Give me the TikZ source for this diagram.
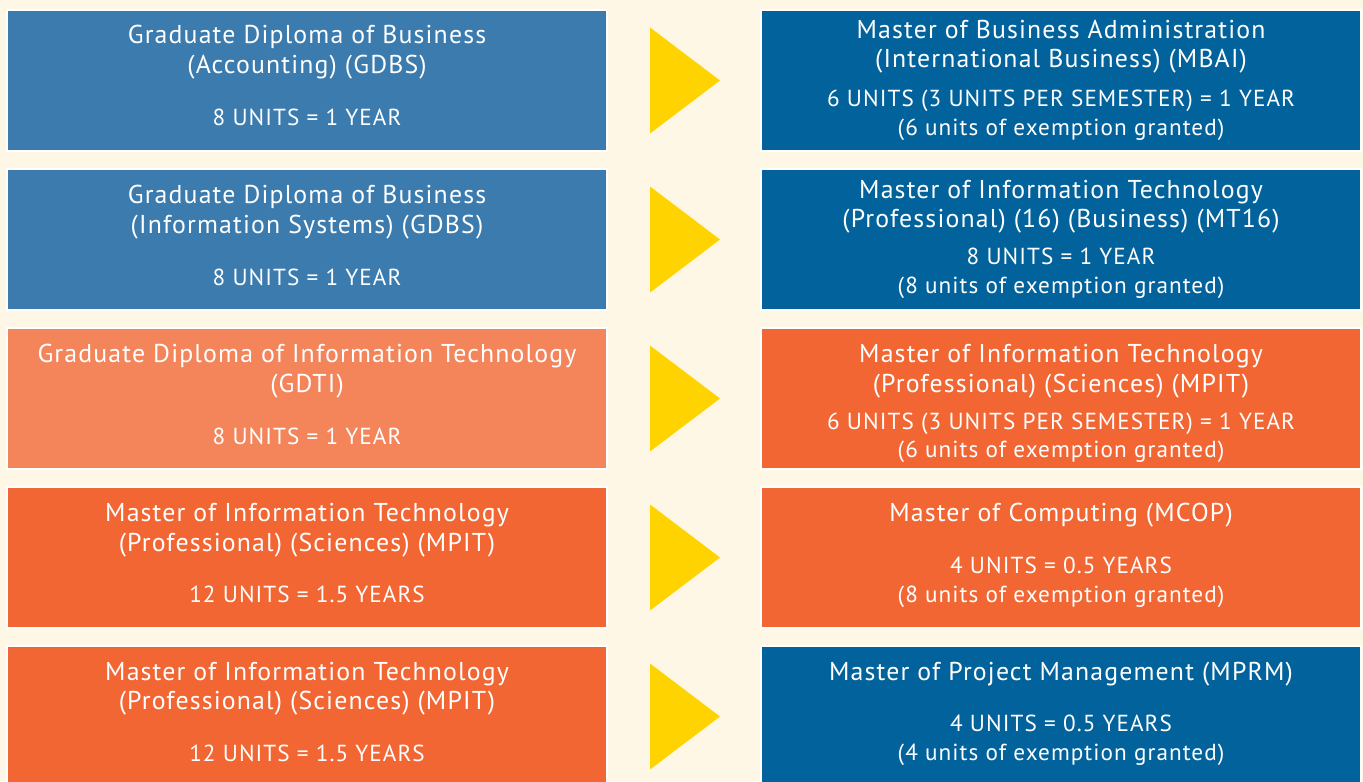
\documentclass[tikz,border=0pt]{standalone}
\usepackage{fontspec}
\setmainfont{PT Sans}[LetterSpace=4.5]
\definecolor{cream}{HTML}{FFF7E6}
\definecolor{steelblue}{HTML}{3B7BAE}
\definecolor{deepblue}{HTML}{02639C}
\definecolor{paleorange}{HTML}{F4855B}
\definecolor{brightorange}{HTML}{F26634}
\definecolor{signyellow}{HTML}{FFD300}
\tikzset{
  progbox/.style={draw=white, line width=0.6pt, minimum width=300pt, minimum height=70.5pt, inner sep=0pt},
  titletext/.style={anchor=base, text=white, inner sep=0pt, font=\fontsize{12.9}{14}\selectfont},
  detailtext/.style={anchor=base, text=white, inner sep=0pt, font=\fontsize{11.6}{13}\selectfont},
  pointer/.style={fill=signyellow}
}
\begin{document}
\begin{tikzpicture}[x=0.5pt, y=-0.5pt]
  \useasboundingbox (0,0) rectangle (1363,781);
  \clip (0,0) rectangle (1363,781);
  \fill[cream] (0,0) rectangle (1363,781);
  % row 1
  \node[progbox, fill=steelblue] (gdbsacc) at (307,80.5) {};
  \node[titletext] (gdbsacc-a) at (307,44) {Graduate Diploma of Business};
  \node[titletext] (gdbsacc-b) at (307,74) {(Accounting) (GDBS)};
  \node[detailtext] (gdbsacc-c) at (307,126) {8 UNITS = 1 YEAR};
  \fill[pointer] (650,27.5) -- (720,80.5) -- (650,133.5) -- cycle;
  \node[progbox, fill=deepblue] (mbai) at (1061,80.5) {};
  \node[titletext] (mbai-a) at (1061,39) {Master of Business Administration};
  \node[titletext] (mbai-b) at (1061,68) {(International Business) (MBAI)};
  \node[detailtext] (mbai-c) at (1061,106) {6 UNITS (3 UNITS PER SEMESTER) = 1 YEAR};
  \node[detailtext] (mbai-d) at (1061,135) {(6 units of exemption granted)};
  % row 2
  \node[progbox, fill=steelblue] (gdbsis) at (307,239.5) {};
  \node[titletext] (gdbsis-a) at (307,203) {Graduate Diploma of Business};
  \node[titletext] (gdbsis-b) at (307,233) {(Information Systems) (GDBS)};
  \node[detailtext] (gdbsis-c) at (307,285) {8 UNITS = 1 YEAR};
  \fill[pointer] (650,186.5) -- (720,239.5) -- (650,292.5) -- cycle;
  \node[progbox, fill=deepblue] (mt16) at (1061,239.5) {};
  \node[titletext] (mt16-a) at (1061,198) {Master of Information Technology};
  \node[titletext] (mt16-b) at (1061,227) {(Professional) (16) (Business) (MT16)};
  \node[detailtext] (mt16-c) at (1061,264) {8 UNITS = 1 YEAR};
  \node[detailtext] (mt16-d) at (1061,293) {(8 units of exemption granted)};
  % row 3
  \node[progbox, fill=paleorange] (gdti) at (307,398.5) {};
  \node[titletext] (gdti-a) at (307,362) {Graduate Diploma of Information Technology};
  \node[titletext] (gdti-b) at (307,392) {(GDTI)};
  \node[detailtext] (gdti-c) at (307,444) {8 UNITS = 1 YEAR};
  \fill[pointer] (650,345.5) -- (720,398.5) -- (650,451.5) -- cycle;
  \node[progbox, fill=brightorange] (mpit) at (1061,398.5) {};
  \node[titletext] (mpit-a) at (1061,362) {Master of Information Technology};
  \node[titletext] (mpit-b) at (1061,392) {(Professional) (Sciences) (MPIT)};
  \node[detailtext] (mpit-c) at (1061,429) {6 UNITS (3 UNITS PER SEMESTER) = 1 YEAR};
  \node[detailtext] (mpit-d) at (1061,457) {(6 units of exemption granted)};
  % row 4
  \node[progbox, fill=brightorange] (mpitc) at (307,557.5) {};
  \node[titletext] (mpitc-a) at (307,521) {Master of Information Technology};
  \node[titletext] (mpitc-b) at (307,551) {(Professional) (Sciences) (MPIT)};
  \node[detailtext] (mpitc-c) at (307,602) {12 UNITS = 1.5 YEARS};
  \fill[pointer] (650,504.5) -- (720,557.5) -- (650,610.5) -- cycle;
  \node[progbox, fill=brightorange] (mcop) at (1061,557.5) {};
  \node[titletext] (mcop-a) at (1061,521) {Master of Computing (MCOP)};
  \node[detailtext] (mcop-b) at (1061,573) {4 UNITS = 0.5 YEARS};
  \node[detailtext] (mcop-c) at (1061,602) {(8 units of exemption granted)};
  % row 5
  \node[progbox, fill=brightorange] (mpitm) at (307,716.5) {};
  \node[titletext] (mpitm-a) at (307,680) {Master of Information Technology};
  \node[titletext] (mpitm-b) at (307,709) {(Professional) (Sciences) (MPIT)};
  \node[detailtext] (mpitm-c) at (307,761) {12 UNITS = 1.5 YEARS};
  \fill[pointer] (650,663.5) -- (720,716.5) -- (650,769.5) -- cycle;
  \node[progbox, fill=deepblue] (mprm) at (1061,716.5) {};
  \node[titletext] (mprm-a) at (1061,680) {Master of Project Management (MPRM)};
  \node[detailtext] (mprm-b) at (1061,731) {4 UNITS = 0.5 YEARS};
  \node[detailtext] (mprm-c) at (1061,760) {(4 units of exemption granted)};
\end{tikzpicture}
\end{document}
